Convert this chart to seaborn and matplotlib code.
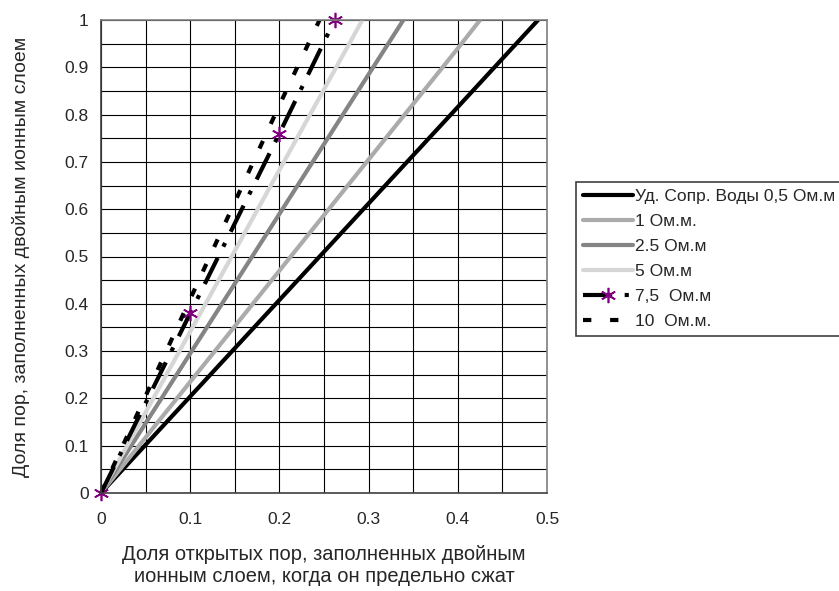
import numpy as np
import pandas as pd
import seaborn as sns
import matplotlib.pyplot as plt

# values
x_05 = [0, 0.1, 0.2, 0.3, 0.4, 0.49]
y_05 = [0, 0.204, 0.408, 0.612, 0.816, 1.0]
x_1 = [0, 0.1, 0.2, 0.3, 0.4, 0.425]
y_1 = [0, 0.235, 0.47, 0.705, 0.94, 1.0]
x_25 = [0, 0.1, 0.2, 0.3, 0.339]
y_25 = [0, 0.295, 0.59, 0.885, 1.0]
x_5 = [0, 0.1, 0.2, 0.293]
y_5 = [0, 0.341, 0.683, 1.0]
x_75 = [0, 0.1, 0.2, 0.262]
y_75 = [0, 0.38, 0.76, 1.0]
x_10 = [0, 0.1, 0.2, 0.245]
y_10 = [0, 0.41, 0.82, 1.0]

labels = ["Уд. Сопр. Воды 0,5 Ом.м", "1 Ом.м.", "2.5 Ом.м", "5 Ом.м",
          "7,5  Ом.м", "10  Ом.м."]
xticks = [0, 0.1, 0.2, 0.3, 0.4, 0.5]
xtick_labels = ["0", "0.1", "0.2", "0.3", "0.4", "0.5"]
yticks = [0, 0.1, 0.2, 0.3, 0.4, 0.5, 0.6, 0.7, 0.8, 0.9, 1.0]
ytick_labels = ["0", "0.1", "0.2", "0.3", "0.4", "0.5", "0.6", "0.7", "0.8", "0.9", "1"]

sns.set_style("white")
plt.rcParams['font.family'] = ['Liberation Sans', 'DejaVu Sans']
plt.rcParams['font.size'] = 12.5

fig = plt.figure(figsize=(8.39, 5.91), dpi=100)
ax = fig.add_axes([101 / 839, 1 - 493 / 591, 446 / 839, 473 / 591])

lw = 3
sns.lineplot(x=x_05, y=y_05, ax=ax, color="black", lw=lw, label=labels[0])
sns.lineplot(x=x_1, y=y_1, ax=ax, color="#ababab", lw=lw, label=labels[1])
sns.lineplot(x=x_25, y=y_25, ax=ax, color="#858585", lw=lw, label=labels[2])
sns.lineplot(x=x_5, y=y_5, ax=ax, color="#d6d6d6", lw=lw, label=labels[3])
sns.lineplot(x=x_75, y=y_75, ax=ax, color="black", lw=lw, label=labels[4],
             linestyle=(0, (7, 3, 1, 3)), marker=(6, 2, 0), markersize=11,
             markeredgecolor="purple", markerfacecolor="purple", markeredgewidth=1.2,
             clip_on=False)
sns.lineplot(x=x_10, y=y_10, ax=ax, color="black", lw=lw, label=labels[5],
             linestyle=(0, (2, 4.5)))

ax.set_xlim(0, 0.5)
ax.set_ylim(0, 1)
ax.set_xticks(xticks)
ax.set_xticklabels(xtick_labels)
ax.set_yticks(yticks)
ax.set_yticklabels(ytick_labels)
ax.set_xticks(np.arange(0.05, 0.5, 0.1), minor=True)
ax.set_yticks(np.arange(0.05, 1.0, 0.1), minor=True)
ax.grid(which="both", color="black", lw=0.8)
ax.set_axisbelow(True)
ax.tick_params(which="both", length=0)
ax.tick_params(axis="x", pad=14)
ax.tick_params(axis="y", pad=9)

for side in ["left", "bottom"]:
    ax.spines[side].set_color("#404040")
for side in ["top", "right"]:
    ax.spines[side].set_color("#808080")
for s in ax.spines.values():
    s.set_linewidth(1.2)

ax.set_xlabel("Доля открытых пор, заполненных двойным\nионным слоем, когда он предельно сжат",
              fontsize=14.5, linespacing=1.2)
ax.xaxis.set_label_coords(0.5, -0.11)
ax.set_ylabel("Доля пор, заполненных двойным ионным слоем", fontsize=14)
ax.yaxis.set_label_coords(-0.16, 0.5)

leg = ax.legend(loc="upper left", bbox_to_anchor=(576 / 839, 1 - 182 / 591),
                bbox_transform=fig.transFigure, frameon=True, fancybox=False,
                edgecolor="#404040", framealpha=1, handlelength=2.9,
                handletextpad=0.1, labelspacing=0.57, borderpad=0.4,
                borderaxespad=0)
leg.get_frame().set_linewidth(1.2)

fig.savefig("out.png", dpi=100)
